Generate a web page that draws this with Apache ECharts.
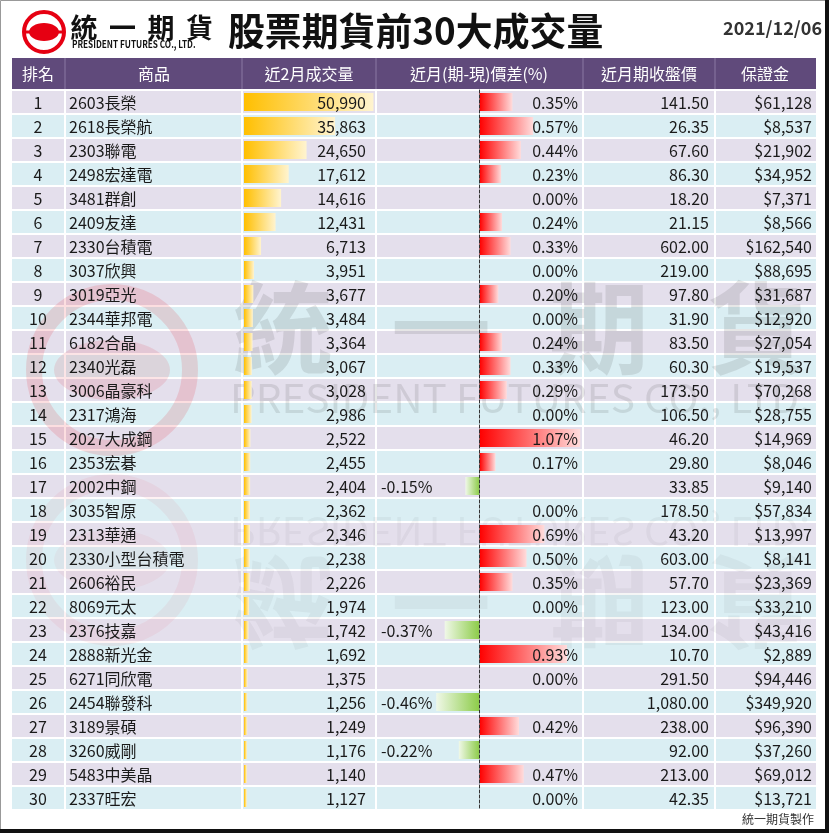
<!DOCTYPE html>
<html><head><meta charset="utf-8">
<script src="https://cdn.jsdelivr.net/npm/echarts@6/dist/echarts.min.js"></script>
<style>html,body{margin:0;padding:0;background:#fff}#c{width:829px;height:833px}</style>
</head><body><div id="c"></div>
<script>
const headers = ['排名','商品','近2月成交量','近月(期-現)價差(%)','近月期收盤價','保證金'];
const ranks = [1,2,3,4,5,6,7,8,9,10,11,12,13,14,15,16,17,18,19,20,21,22,23,24,25,26,27,28,29,30];
const names = ['2603長榮','2618長榮航','2303聯電','2498宏達電','3481群創','2409友達','2330台積電','3037欣興','3019亞光','2344華邦電','6182合晶','2340光磊','3006晶豪科','2317鴻海','2027大成鋼','2353宏碁','2002中鋼','3035智原','2313華通','2330小型台積電','2606裕民','8069元太','2376技嘉','2888新光金','6271同欣電','2454聯發科','3189景碩','3260威剛','5483中美晶','2337旺宏'];
const volumes = [50990,35863,24650,17612,14616,12431,6713,3951,3677,3484,3364,3067,3028,2986,2522,2455,2404,2362,2346,2238,2226,1974,1742,1692,1375,1256,1249,1176,1140,1127];
const spreads = [0.35,0.57,0.44,0.23,0.00,0.24,0.33,0.00,0.20,0.00,0.24,0.33,0.29,0.00,1.07,0.17,-0.15,0.00,0.69,0.50,0.35,0.00,-0.37,0.93,0.00,-0.46,0.42,-0.22,0.47,0.00];
const closes = [141.50,26.35,67.60,86.30,18.20,21.15,602.00,219.00,97.80,31.90,83.50,60.30,173.50,106.50,46.20,29.80,33.85,178.50,43.20,603.00,57.70,123.00,134.00,10.70,291.50,1080.00,238.00,92.00,213.00,42.35];
const margins = [61128,8537,21902,34952,7371,8566,162540,88695,31687,12920,27054,19537,70268,28755,14969,8046,9140,57834,13997,8141,23369,33210,43416,2889,94446,349920,96390,37260,69012,13721];
const titleText = '股票期貨前30大成交量';
const dateText = '2021/12/06';
const footerText = '統一期貨製作';

const FONT = '"Noto Sans CJK TC", "Noto Sans", sans-serif';
const T = 90, ROWH = 24, N = names.length, H = ROWH * N;
const fmtInt = v => v.toLocaleString('en-US');
const fmtClose = v => v.toLocaleString('en-US', {minimumFractionDigits: 2, maximumFractionDigits: 2});

const redGrad = {type:'linear', x:0, y:0, x2:1, y2:0, colorStops:[{offset:0,color:'#ff0000'},{offset:1,color:'#ffdcdc'}]};
const greenGrad = {type:'linear', x:1, y:0, x2:0, y2:0, colorStops:[{offset:0,color:'#8ccc48'},{offset:1,color:'#f0f8e8'}]};
const yellowGrad = {type:'linear', x:0, y:0, x2:1, y2:0, colorStops:[{offset:0,color:'#ffbf00'},{offset:1,color:'#fff4d0'}]};

const colX = [12, 65, 242, 376, 583, 715, 816];
const headerCenters = [38, 154, 309, 479, 649, 765];

const graphics = [];
// header
graphics.push({type:'rect', shape:{x:12, y:58, width:804, height:31}, style:{fill:'#604a7b'}, z:1});
headers.forEach((h, i) => graphics.push({type:'text', z:5, style:{x:headerCenters[i], y:74, text:h, align:'center', verticalAlign:'middle', font:'16px ' + FONT, fill:'#ffffff'}}));
// column separators
colX.slice(1, 6).forEach(x => {
  graphics.push({type:'line', z:1, shape:{x1:x, y1:58, x2:x, y2:89}, style:{stroke:'#7d6a96', lineWidth:1.5}});
  graphics.push({type:'line', z:1, shape:{x1:x, y1:T, x2:x, y2:T + H}, style:{stroke:'#ffffff', lineWidth:2}});
});
// logo
graphics.push({type:'circle', z:5, shape:{cx:44, cy:32, r:20}, style:{fill:'#fff', stroke:'#e60012', lineWidth:4}});
graphics.push({type:'ellipse', z:5, shape:{cx:44, cy:32, rx:15, ry:9}, style:{fill:'#e60012'}});
graphics.push({type:'line', z:5, shape:{x1:26, y1:32, x2:62, y2:32}, style:{stroke:'#e60012', lineWidth:3}});
['統','一','期','貨'].forEach((c, i) => graphics.push({type:'text', z:5, style:{x:84 + i * 38.5, y:28, text:c, align:'center', verticalAlign:'middle', font:'bold 27px ' + FONT, fill:'#111'}}));
graphics.push({type:'text', z:5, x:72, y:44, scaleX:0.82, style:{x:0, y:0, text:'PRESIDENT FUTURES CO., LTD.', align:'left', verticalAlign:'middle', font:'bold 10px ' + FONT, fill:'#111'}});
// title/date
graphics.push({type:'text', z:5, x:228, y:31, scaleX:0.97, style:{x:0, y:0, text:titleText, align:'left', verticalAlign:'middle', font:'bold 38px ' + FONT, fill:'#111'}});
graphics.push({type:'text', z:5, style:{x:822, y:28, text:dateText, align:'right', verticalAlign:'middle', font:'bold 18px ' + FONT, fill:'#333'}});
graphics.push({type:'text', z:5, style:{x:814, y:819, text:footerText, align:'right', verticalAlign:'middle', font:'12px ' + FONT, fill:'#333'}});

// watermark
function wm(op, baseY, flip) {
  const Y = v => flip ? 2 * baseY - v : v;
  const sy = flip ? -1 : 1;
  return [
    {type:'circle', z:1, shape:{cx:112, cy:Y(370), r:78}, style:{fill:'none', stroke:'rgba(230,0,18,' + op + ')', lineWidth:16}},
    {type:'ellipse', z:1, shape:{cx:112, cy:Y(370), rx:58, ry:30}, style:{fill:'rgba(230,0,18,' + op * 0.8 + ')'}},
    ...['統','一','期','貨'].map((c, i) => ({type:'text', z:1, x:283 + i * 158, y:Y(328), scaleY:sy, style:{x:0, y:0, text:c, align:'center', verticalAlign:'middle', font:'bold 100px ' + FONT, fill:'rgba(60,60,60,' + op + ')'}})),
    {type:'text', z:1, x:230, y:Y(398), scaleX:1.04, scaleY:sy, style:{x:0, y:0, text:'PRESIDENT FUTURES CO., LTD.', align:'left', verticalAlign:'middle', font:'39px ' + FONT, fill:'rgba(60,60,60,' + op + ')'}}
  ];
}
wm(0.13, 0, false).forEach(g => graphics.push(g));
wm(0.05, 465, true).forEach(g => graphics.push(g));
// frame
graphics.push({type:'rect', z:10, shape:{x:0.5, y:0.5, width:827, height:831}, style:{fill:'none', stroke:'#999', lineWidth:1}});
graphics.push({type:'line', z:10, shape:{x1:0, y1:831, x2:829, y2:831}, style:{stroke:'#111', lineWidth:4}});
graphics.push({type:'line', z:10, shape:{x1:827, y1:0, x2:827, y2:833}, style:{stroke:'#111', lineWidth:4}});

const cats = ranks.map(String);

const option = {
  backgroundColor: '#ffffff',
  animation: false,
  grid: [
    {left:12, top:T, width:804, height:H},
    {left:244, top:T, width:132, height:H},
    {left:376, top:T, width:207, height:H}
  ],
  xAxis: [
    {gridIndex:0, type:'value', min:0, max:1, show:false},
    {gridIndex:1, type:'value', min:0, max:52000, show:false},
    {gridIndex:2, type:'value', min:-1.1, max:1.1, show:false}
  ],
  yAxis: [
    {gridIndex:0, type:'category', data:cats, inverse:true, axisLine:{show:false}, axisTick:{show:false}, axisLabel:{show:false, interval:0},
     splitArea:{show:true, interval:0, areaStyle:{color:['#e4dfec','#daeef3']}}, splitLine:{show:true, interval:0, lineStyle:{color:'#ffffff', width:2}}},
    {gridIndex:1, type:'category', data:cats, inverse:true, show:false},
    {gridIndex:2, type:'category', data:cats, inverse:true, axisTick:{show:false}, axisLabel:{show:false},
     axisLine:{show:true, onZero:true, lineStyle:{color:'#333', width:1, type:[3,2]}}, z:4}
  ],
  graphic: graphics,
  series: [
    {type:'bar', xAxisIndex:1, yAxisIndex:1, data:volumes, barWidth:18, itemStyle:{color:yellowGrad}, z:2, silent:true},
    {type:'bar', xAxisIndex:2, yAxisIndex:2, data:spreads.map(v => ({value:v, itemStyle:{color: v < 0 ? greenGrad : redGrad}})), barWidth:18, z:2, silent:true},
    {type:'custom', xAxisIndex:0, yAxisIndex:0, z:6, silent:true, clip:false,
     data: ranks.map((r, i) => [0, i]),
     renderItem: function (params, api) {
       const i = api.value(1);
       const y = api.coord([0, i])[1];
       const t = (x, text, align) => ({type:'text', style:{x:x, y:y + 1, text:text, align:align, verticalAlign:'middle', font:'16px ' + FONT, fill:'#1a1a1a'}});
       const sv = spreads[i];
       return {type:'group', children:[
         t(38, String(ranks[i]), 'center'),
         t(69, names[i], 'left'),
         t(366, fmtInt(volumes[i]), 'right'),
         sv < 0 ? t(381, sv.toFixed(2) + '%', 'left') : t(578, sv.toFixed(2) + '%', 'right'),
         t(709, fmtClose(closes[i]), 'right'),
         t(812, '$' + fmtInt(margins[i]), 'right')
       ]};
     }}
  ]
};
const chart = echarts.init(document.getElementById('c'), null, {renderer:'canvas'});
chart.setOption(option);
</script></body></html>
